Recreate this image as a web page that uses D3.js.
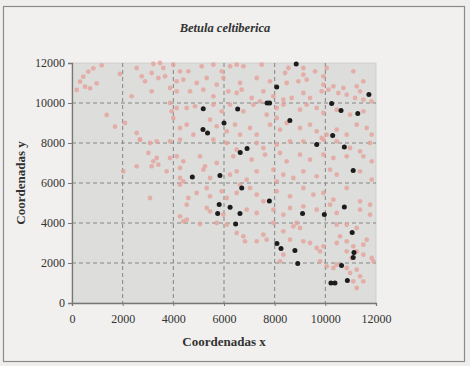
<!DOCTYPE html>
<html><head><meta charset="utf-8">
<script src="https://cdn.jsdelivr.net/npm/d3@7"></script>
<style>body{margin:0;background:#efeeec;}svg{display:block;}</style>
</head><body>
<script>
const title = "Betula celtiberica";
const xLabel = "Coordenadas x";
const yLabel = "Coordenadas y";
const xTicks = [0,2000,4000,6000,8000,10000,12000];
const yTicks = [0,2000,4000,6000,8000,10000,12000];

// Pink points (x, y)
const pinkX = [185,316,447,513,645,711,842,974,1369,1697,1171,
2553,3211,3474,3606,4000,4264,4593,5119,5580,5909,6238,6501,6764,7488,8409,8541,9133,9133,9594,10054,9923,11107,
1895,2750,2882,3145,3408,3672,4132,4395,4922,5317,5711,5975,6633,7291,7817,8475,8936,9265,9923,10317,10712,11239,11502,
2356,3145,3869,4132,4659,5185,5580,6172,6501,6698,7093,7554,7949,8343,8672,9133,9396,9857,10120,10515,10844,11173,11502,11831,11370,
3869,3935,4132,4527,4856,5580,5909,6238,6764,7159,7422,8080,8343,9001,9265,9659,9923,10449,10975,11502,7685,8080,
2093,2553,2685,4000,4264,4527,4790,5448,5711,6106,6435,6633,7027,7291,7817,8212,8475,9001,9396,9659,9857,10054,10449,10844,11239,11634,11831,
2685,3080,3343,3869,4264,5580,6106,6501,7291,7554,8080,8606,9133,9923,10449,10975,11370,11765,
3014,3211,3408,3145,3343,3869,4132,4395,4264,5053,5251,5711,6369,7093,7620,8212,8475,9001,9396,9923,10317,10844,11502,11831,
2027,2553,3737,4264,4395,5185,5448,6238,6501,6896,7291,7949,8343,8738,9133,9659,10185,10449,11370,11831,6633,8080,
3080,4264,4593,4922,5317,5448,5909,6106,6501,7027,7291,7554,8080,8606,9133,9528,9923,10317,10844,11370,11765,5317,4527,
4264,5448,5975,6896,7291,7949,8343,8606,9133,9659,10185,10449,11370,11765,
4395,4527,5053,5711,6106,6501,6764,6830,7291,7554,7685,7949,8343,8606,8738,9001,8870,9133,9396,9659,9791,9923,10449,10844,11239,10580,10449,10844,11107,11239,11502,11634,11502,11831,11897,8212,8343,10054,10317,10449,10844,10975,11239,11370,11107,11502,11239,9791,10844,11041];
const pinkY = [10650,11067,11317,10817,11567,10733,11733,10983,9400,8817,11883,
11750,11950,12000,11750,11917,11583,11583,11833,11917,11583,11833,11917,11833,11917,11500,11750,11750,11417,11583,11750,11333,11583,
11450,11333,11083,11500,11250,11333,11083,11167,11000,11250,10917,11250,11000,11250,11083,11000,11083,11167,10917,10833,10750,10833,11083,
10333,10583,10750,10583,10583,10667,10333,10583,10500,10667,10250,10583,10333,10167,10250,10500,10250,10583,10667,10500,10417,10250,10167,10083,10583,
10000,9583,9750,9750,9833,9917,9583,9917,9583,9917,10083,9750,9917,9667,9917,9750,9500,9667,9417,9583,9417,9250,
9000,8500,8167,9250,8750,8917,8417,9167,8833,8583,8917,8417,8750,8417,8917,8667,9000,8750,8917,8583,8250,8417,8667,8417,8917,8750,8417,
8167,8000,8083,8083,8167,8167,8000,7667,8000,7750,7917,8083,8083,8167,8083,7750,7583,8000,
7500,7083,6917,6833,7250,7250,7333,7083,6750,7333,6833,7000,7333,7167,7417,7500,7083,7417,7167,7417,7250,7333,7333,7083,
6583,6833,6583,6250,6083,6667,6250,6417,6583,6167,6583,6667,6417,6250,6583,6333,6667,6417,6583,6167,5917,6083,
5250,5917,5250,5500,5750,5333,5583,5250,5500,5750,5417,5083,5583,5333,5750,5417,5500,5167,5750,5083,4917,4750,4917,
4333,4583,4417,4667,4500,4667,4417,4750,4833,4667,4917,4500,4667,4417,
4083,4167,3950,4000,3917,3500,3333,3083,3083,3417,3167,4000,3583,3167,3833,3750,4000,3083,3000,2750,2583,2833,3917,3917,3750,3333,3000,3083,2833,2583,2917,3167,2417,2250,2083,2083,2417,1833,1750,1917,1750,1500,1667,1333,1083,1083,750,2083,2583,2250];

// Black points (x, y)
const blackX = [8850,8080,7700,7800,5180,6540,10250,11720,10620,11280,8600,6000,5170,5350,10290,
6910,6640,10750,9660,11100,4750,5840,6700,7790,5810,6240,5750,6630,9100,9960,10750,
6460,11060,8090,8250,8800,11130,11100,8910,10640,10870,10220,10380];
const blackY = [11950,10800,10000,10000,9710,9700,9980,10420,9630,9470,9130,9000,8670,8500,8380,
7720,7530,7800,7920,6630,6300,6380,5750,5100,4920,4790,4480,4480,4480,4420,4800,
3950,3530,2980,2720,2630,2530,2280,1980,1870,1120,1000,1000];

const W = 470, H = 366;
const svg = d3.select("body").append("svg").attr("width", W).attr("height", H);
const font = "'Liberation Serif','Times New Roman',serif";

// outer frame
svg.append("rect").attr("x",3.5).attr("y",6.5).attr("width",461).attr("height",355)
  .attr("fill","#f1f0ee").attr("stroke","#8a8a8a").attr("stroke-width",1.2);

const pL = 72, pR = 376, pT = 63, pB = 303;
const x = d3.scaleLinear().domain([0,12000]).range([pL,pR]);
const y = d3.scaleLinear().domain([0,12000]).range([pB,pT]);

// plot background
svg.append("rect").attr("x",pL).attr("y",pT).attr("width",pR-pL).attr("height",pB-pT)
  .attr("fill","#dddddb").attr("stroke","#cacac8").attr("stroke-width",0.8);

// grid lines
const g = svg.append("g");
g.selectAll(".vg").data(xTicks.filter(d=>d>0&&d<12000)).enter().append("line")
  .attr("x1",d=>x(d)).attr("x2",d=>x(d)).attr("y1",pT).attr("y2",pB)
  .attr("stroke","#858585").attr("stroke-width",1).attr("stroke-dasharray","4,3");
g.selectAll(".hg").data(yTicks.filter(d=>d>0&&d<12000)).enter().append("line")
  .attr("x1",pL).attr("x2",pR).attr("y1",d=>y(d)).attr("y2",d=>y(d))
  .attr("stroke","#858585").attr("stroke-width",1).attr("stroke-dasharray","4,3");

// points
const nP = Math.min(pinkX.length, pinkY.length);
const pink = d3.range(nP).map(i=>[pinkX[i],pinkY[i]]);
const nB = Math.min(blackX.length, blackY.length);
const black = d3.range(nB).map(i=>[blackX[i],blackY[i]]);
svg.append("g").selectAll("circle").data(pink).enter().append("circle")
  .attr("cx",d=>x(d[0])).attr("cy",d=>y(d[1])).attr("r",2.4)
  .attr("fill","#e6a39b").attr("opacity",0.8);
svg.append("g").selectAll("circle").data(black).enter().append("circle")
  .attr("cx",d=>x(d[0])).attr("cy",d=>y(d[1])).attr("r",2.5)
  .attr("fill","#1c1c1c");

// axes
const xAxis = svg.append("g").attr("transform",`translate(0,${pB})`)
  .call(d3.axisBottom(x).tickValues(xTicks).tickFormat(d3.format("d")).tickSize(3).tickPadding(8));
const yAxis = svg.append("g").attr("transform",`translate(${pL},0)`)
  .call(d3.axisLeft(y).tickValues(yTicks).tickFormat(d3.format("d")).tickSize(4).tickPadding(3));
[xAxis,yAxis].forEach(a=>{
  a.selectAll("path").attr("stroke","#777").attr("stroke-width",1.3);
  a.selectAll("line").attr("stroke","#777");
  a.selectAll("text").attr("font-family",font).attr("font-size",12).attr("fill","#333");
});

// titles
svg.append("text").attr("x",225).attr("y",32).attr("text-anchor","middle")
  .attr("font-family",font).attr("font-size",12.5).attr("font-style","italic").attr("font-weight","bold")
  .attr("fill","#333").text(title);
svg.append("text").attr("x",224).attr("y",346).attr("text-anchor","middle")
  .attr("font-family",font).attr("font-size",13).attr("font-weight","bold").attr("fill","#333").text(xLabel);
svg.append("text").attr("transform","translate(25,183) rotate(-90)").attr("text-anchor","middle")
  .attr("font-family",font).attr("font-size",13).attr("font-weight","bold").attr("fill","#333").text(yLabel);
</script>
</body></html>
